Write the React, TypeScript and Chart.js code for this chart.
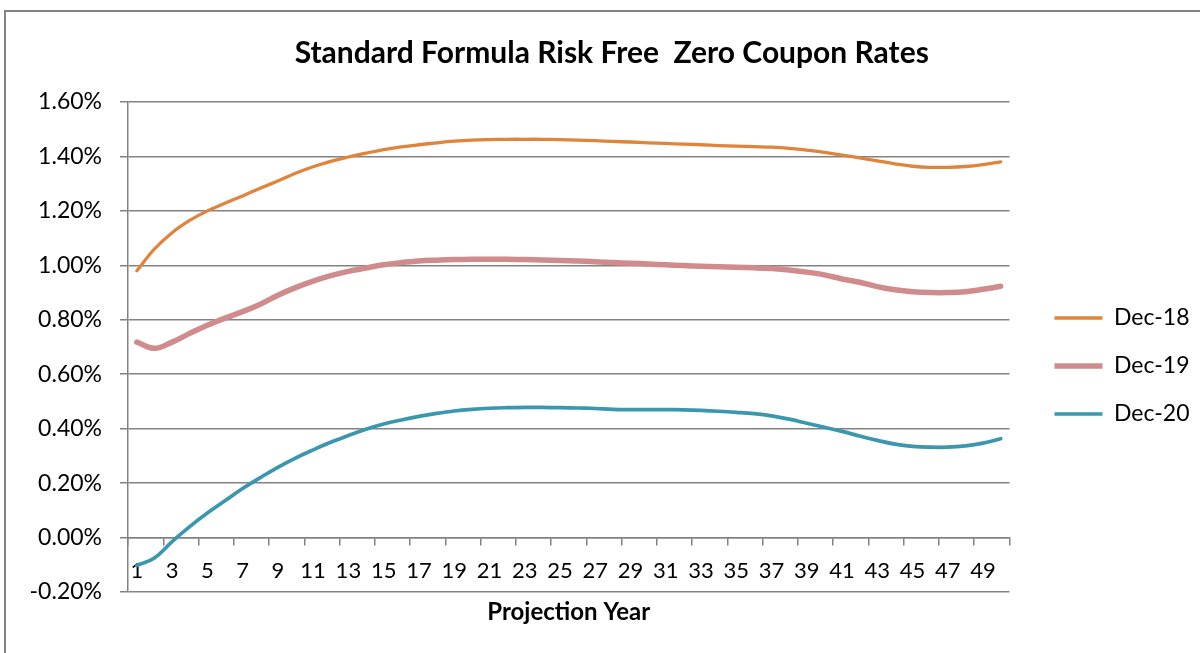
import React, { useEffect, useRef } from "react";
import { Chart, registerables } from "chart.js";

Chart.register(...registerables);

const projectionYears = [
  "1", "2", "3", "4", "5", "6", "7", "8", "9", "10",
  "11", "12", "13", "14", "15", "16", "17", "18", "19", "20",
  "21", "22", "23", "24", "25", "26", "27", "28", "29", "30",
  "31", "32", "33", "34", "35", "36", "37", "38", "39", "40",
  "41", "42", "43", "44", "45", "46", "47", "48", "49", "50",
];

const dec18 = [
  0.98, 1.06, 1.12, 1.165, 1.2, 1.228, 1.255, 1.283, 1.31, 1.338,
  1.362, 1.382, 1.398, 1.412, 1.425, 1.435, 1.443, 1.45, 1.456, 1.46,
  1.462, 1.463, 1.463, 1.463, 1.462, 1.46, 1.458, 1.455, 1.453, 1.45,
  1.448, 1.445, 1.443, 1.44, 1.438, 1.436, 1.434, 1.43, 1.423, 1.415,
  1.405, 1.395, 1.384, 1.373, 1.364, 1.36, 1.36, 1.363, 1.37, 1.38,
];

const dec19 = [
  0.718, 0.695, 0.718, 0.75, 0.78, 0.806, 0.83, 0.857, 0.89, 0.918,
  0.942, 0.962, 0.978, 0.99, 1.002, 1.01, 1.016, 1.019, 1.021, 1.022,
  1.022, 1.022, 1.021, 1.02, 1.018, 1.016, 1.013, 1.01, 1.008, 1.005,
  1.002, 0.999, 0.997, 0.995, 0.993, 0.991, 0.988, 0.983, 0.975, 0.965,
  0.95, 0.938, 0.922, 0.91, 0.903, 0.9, 0.9, 0.903, 0.912, 0.923,
];

const dec20 = [
  -0.103, -0.075, -0.015, 0.04, 0.09, 0.135, 0.18, 0.22, 0.258, 0.292,
  0.322, 0.35, 0.375, 0.398, 0.417, 0.432, 0.445, 0.456, 0.465, 0.471,
  0.475, 0.477, 0.478, 0.478, 0.477, 0.476, 0.474, 0.471, 0.47, 0.47,
  0.47, 0.469, 0.467, 0.464, 0.46, 0.455, 0.447, 0.435, 0.42, 0.405,
  0.39, 0.373, 0.357, 0.343, 0.335, 0.332, 0.332, 0.337, 0.347, 0.363,
];

const seriesNames = ["Dec-18", "Dec-19", "Dec-20"];
const yMin = -0.2;
const yMax = 1.6;
const yStep = 0.2;

const GRID = "#828282";
const FONT = "Lato, 'Open Sans', 'DejaVu Sans', sans-serif";

export default function App() {
  const ref = useRef<HTMLCanvasElement>(null);

  useEffect(() => {
    document.body.style.margin = "0";
    const canvas = ref.current;
    if (!canvas) return;

    const frame = {
      id: "frame",
      beforeDraw(chart: any) {
        const c = chart.ctx;
        c.save();
        c.fillStyle = "#ffffff";
        c.fillRect(0, 0, chart.width, chart.height);
        c.strokeStyle = GRID;
        c.lineWidth = 2;
        c.strokeRect(5, 11, chart.width + 20, chart.height + 20);
        c.restore();
      },
    };

    const chart = new Chart(canvas, {
      type: "line",
      data: {
        labels: projectionYears,
        datasets: [
          {
            label: seriesNames[0],
            data: dec18,
            borderColor: "#E0843B",
            backgroundColor: "#E0843B",
            borderWidth: 3.3,
            pointRadius: 0,
            tension: 0.4,
            borderCapStyle: "round",
          },
          {
            label: seriesNames[1],
            data: dec19,
            borderColor: "#D08B8D",
            backgroundColor: "#D08B8D",
            borderWidth: 5.5,
            pointRadius: 0,
            tension: 0.4,
            borderCapStyle: "round",
          },
          {
            label: seriesNames[2],
            data: dec20,
            borderColor: "#3A97AE",
            backgroundColor: "#3A97AE",
            borderWidth: 3.7,
            pointRadius: 0,
            tension: 0.4,
            borderCapStyle: "round",
          },
        ],
      },
      options: {
        responsive: false,
        animation: false,
        events: [],
        layout: { padding: { left: 24, right: 0.5, top: 0, bottom: 0 } },
        font: { family: FONT },
        scales: {
          x: {
            type: "category",
            position: { y: 0 } as any,
            offset: true,
            afterFit: (s: any) => {
              s.height = 0;
            },
            grid: {
              offset: true,
              drawOnChartArea: false,
              drawTicks: true,
              tickLength: 7,
              lineWidth: 1.5,
              color: (ctx: any) =>
                ctx.index === undefined || ctx.index % 2 === 0 ? GRID : "rgba(0,0,0,0)",
            },
            border: { display: true, color: GRID, width: 1.5 },
            ticks: {
              autoSkip: false,
              maxRotation: 0,
              minRotation: 0,
              padding: 13,
              color: "#000",
              font: { family: FONT, size: 22 },
              callback: (_v: any, i: number) => (i % 2 === 0 ? projectionYears[i] : ""),
            },
          },
          y: {
            position: "left",
            min: yMin,
            max: yMax,
            afterFit: (s: any) => {
              s.width = 104;
            },
            grid: {
              color: GRID,
              lineWidth: 1.5,
              drawTicks: true,
              tickLength: 8,
            },
            border: { display: true, color: GRID, width: 1.5 },
            ticks: {
              stepSize: yStep,
              padding: 18,
              color: "#000",
              font: { family: FONT, size: 23 },
              callback: (v: any) => Number(v).toFixed(2) + "%",
            },
          },
          gap: {
            position: "right",
            display: true,
            afterFit: (s: any) => {
              s.width = 20;
            },
            grid: { display: false },
            border: { display: false },
            ticks: { display: false },
          },
        },
        plugins: {
          title: {
            display: true,
            text: "Standard Formula Risk Free  Zero Coupon Rates",
            color: "#000",
            font: { family: FONT, size: 30, weight: "bold", lineHeight: 1.2 },
            padding: { top: 35, bottom: 31 },
          },
          subtitle: {
            display: true,
            position: "bottom",
            fullSize: false,
            text: "Projection Year",
            color: "#000",
            font: { family: FONT, size: 24, weight: "bold", lineHeight: 1.2 },
            padding: { top: 5.6, bottom: 26.6 },
          },
          legend: {
            display: true,
            position: "right",
            fullSize: false,
            title: {
              display: true,
              text: "",
              padding: 0,
              font: { size: 38, lineHeight: 1 },
            },
            labels: {
              usePointStyle: true,
              pointStyle: "line",
              pointStyleWidth: 48,
              boxWidth: 48,
              padding: 25,
              color: "#000",
              font: { family: FONT, size: 23 },
            },
          },
          tooltip: { enabled: false },
        },
      },
      plugins: [frame],
    } as any);

    return () => chart.destroy();
  }, []);

  return <canvas ref={ref} width={1200} height={653} style={{ display: "block" }} />;
}
